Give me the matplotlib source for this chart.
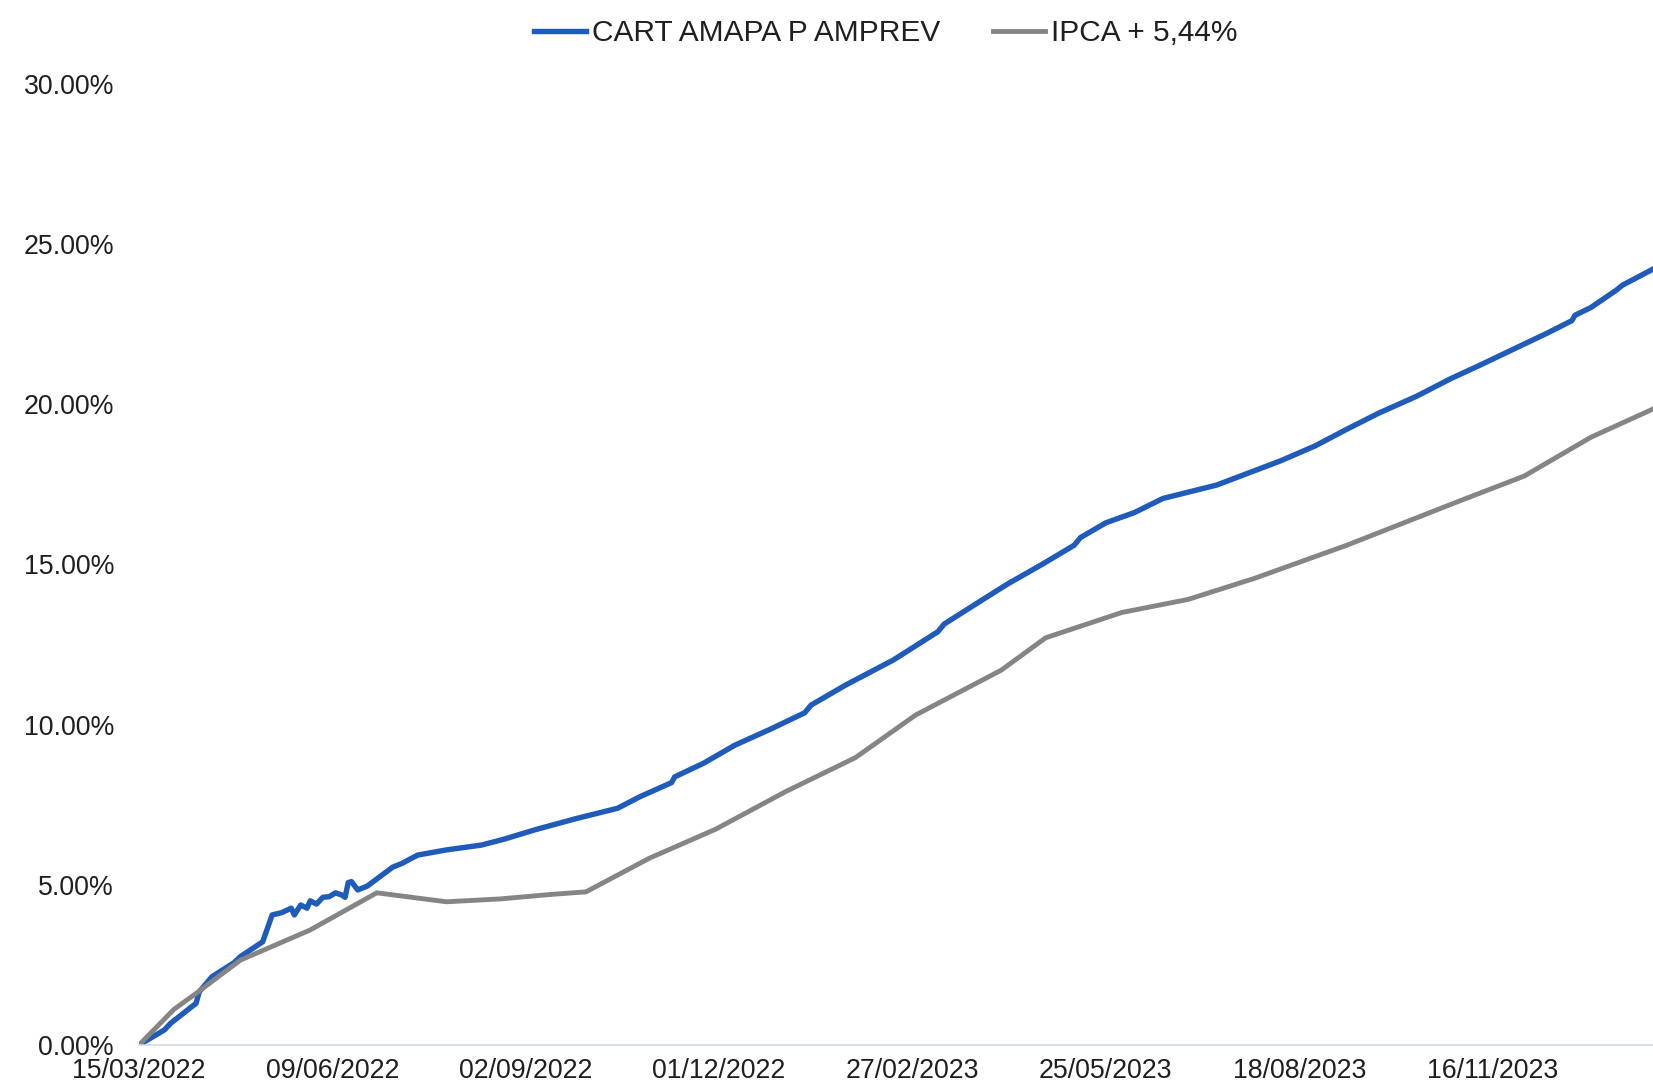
# Rentabilidade acumulada: carteira x meta atuarial (IPCA + 5,44%)
import matplotlib
matplotlib.use("Agg")
import matplotlib.pyplot as plt
from matplotlib.ticker import FuncFormatter

# eixo x = número do pregão desde 15/03/2022 (eixo de categorias)
tick_labels = ["15/03/2022", "09/06/2022", "02/09/2022", "01/12/2022",
               "27/02/2023", "25/05/2023", "18/08/2023", "16/11/2023"]
tick_step = 61
n_pregoes = 478

carteira_x = [0, 8, 10, 18, 19, 23, 30, 32, 39, 42, 45, 48, 49, 51, 53, 54,
              56, 58, 60, 62, 64, 65, 66, 67, 69, 72, 80, 83, 86, 88, 97,
              108, 115, 125, 138, 151, 158, 168, 169, 178, 188, 199, 210,
              212, 223, 233, 238, 252, 254, 265, 274, 285, 295, 297, 305,
              314, 323, 340, 360, 371, 381, 391, 403, 414, 423, 434, 444,
              452, 453, 458, 466, 468, 478]
carteira_y = [0.00, 0.47, 0.68, 1.30, 1.66, 2.13, 2.57, 2.76, 3.22, 4.06,
              4.13, 4.27, 4.06, 4.37, 4.27, 4.50, 4.40, 4.61, 4.63, 4.75,
              4.68, 4.61, 5.07, 5.10, 4.84, 4.96, 5.55, 5.67, 5.83, 5.93,
              6.09, 6.24, 6.42, 6.72, 7.07, 7.39, 7.75, 8.19, 8.37, 8.79,
              9.36, 9.85, 10.37, 10.61, 11.24, 11.76, 12.02, 12.90, 13.14,
              13.83, 14.39, 15.01, 15.60, 15.84, 16.30, 16.62, 17.06, 17.48,
              18.23, 18.70, 19.22, 19.72, 20.25, 20.81, 21.22, 21.74, 22.21,
              22.61, 22.78, 23.02, 23.56, 23.72, 24.24]

meta_x = [0, 11, 18, 32, 54, 75, 97, 114, 130, 141, 161, 182, 204, 226, 245,
          272, 286, 310, 331, 352, 381, 416, 437, 458, 478]
meta_y = [0.00, 1.11, 1.61, 2.65, 3.59, 4.75, 4.47, 4.56, 4.70, 4.78, 5.83,
          6.74, 7.91, 8.97, 10.30, 11.70, 12.71, 13.50, 13.91, 14.57, 15.60,
          16.96, 17.76, 18.97, 19.87]

plt.rcParams['font.family'] = ['Liberation Sans', 'DejaVu Sans']
txt = '#1f1f1f'

fig = plt.figure(figsize=(16.53, 10.83), dpi=100)
ax = fig.add_axes([0.0841, 0.0351, 0.9159, 0.8874])

ax.plot(carteira_x, carteira_y, color='#1f5bb8', lw=3.9,
        solid_joinstyle='round', label='CART AMAPA P AMPREV')
ax.plot(meta_x, meta_y, color='#858585', lw=3.5,
        solid_joinstyle='round', label='IPCA + 5,44%')

ax.set_xlim(0, n_pregoes - 0.4)
ax.set_ylim(0, 30)
ax.set_yticks(range(0, 31, 5))
ax.yaxis.set_major_formatter(FuncFormatter(lambda v, p: f"{v:.2f}%"))
ax.set_xticks(range(0, tick_step * len(tick_labels), tick_step))
ax.set_xticklabels(tick_labels)
ax.tick_params(axis='y', length=0, pad=18, labelsize=19.3, labelcolor=txt)
ax.tick_params(axis='x', length=0, pad=9.5, labelsize=19.3, labelcolor=txt)

for s in ['top', 'right', 'left']:
    ax.spines[s].set_visible(False)
ax.spines['bottom'].set_color('#d0d8ec')
ax.spines['bottom'].set_linewidth(1.2)

fig.legend(loc='center', bbox_to_anchor=(0.5357, 0.9695), ncol=2,
           frameon=False, fontsize=21.5, handlelength=1.75,
           handletextpad=0.2, columnspacing=1.75, labelcolor=txt)

fig.savefig('out.png', dpi=100)
